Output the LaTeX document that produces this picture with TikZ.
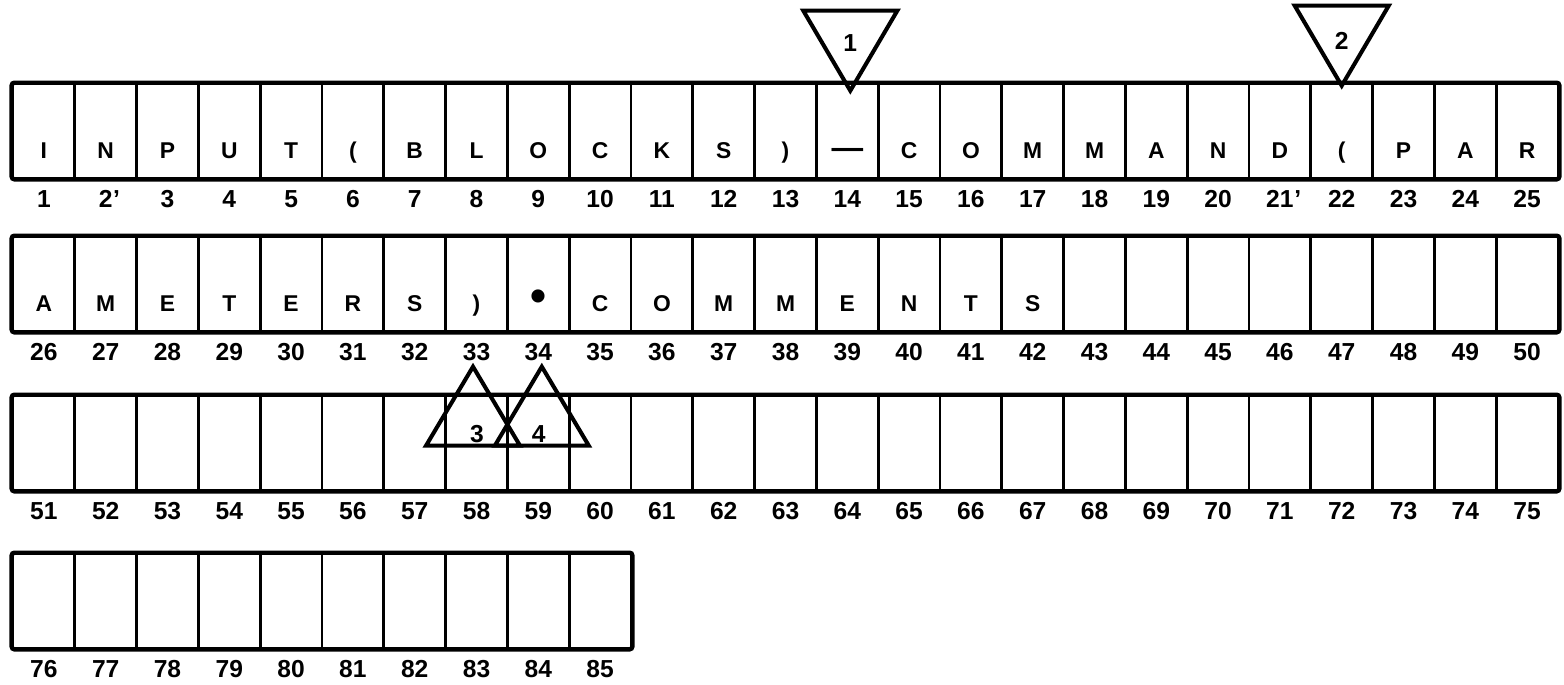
\documentclass[tikz,border=0pt]{standalone}
\usepackage{fontspec}
\setmainfont{Liberation Sans}
\usetikzlibrary{
  positioning,
  calc
}
\tikzset{
  % One column of the card: fixed size box
  cellbox/.style={
    rectangle, draw=black, line width=1.5pt,
    minimum width=1.236cm, minimum height=1.88cm,
    inner sep=0pt
  },
  % Heavy outline round a whole row
  rowframe/.style={
    draw=black, line width=2.5pt, rounded corners=1.5pt
  },
  % Character written in a column
  chr/.style={font=\bfseries\fontsize{13}{13}\selectfont, inner sep=0pt, anchor=base},
  % Column number under a box
  colnum/.style={font=\bfseries\fontsize{14}{14}\selectfont, inner sep=0pt, anchor=base},
  % Numbered pointer triangle
  marker/.style={draw=black, line width=2.3pt, line join=miter},
  mnum/.style={font=\bfseries\fontsize{14}{14}\selectfont, inner sep=0pt}
}

\begin{document}
\begin{tikzpicture}[x=0.02cm, y=-0.02cm]

  \useasboundingbox (0,0) rectangle (1564,684);

  % ---- CELLS: four rows, columns 1 to 85 ----
  \foreach \first/\last/\yc in {1/25/131, 26/50/284, 51/75/443, 76/85/601}
    \foreach \n in {\first,...,\last} {
      \node[cellbox] (c\n) at ({13+(\n-\first+0.5)*61.8},\yc) {};
      \node[colnum] (n\n) at ($(c\n.south)+(0,28)$) {\n};
    }
  \node[colnum, anchor=base west] at (n2.base east) {'};
  \node[colnum, anchor=base west] at (n21.base east) {'};

  % ---- ROW FRAMES ----
  \foreach \a/\b in {1/25, 26/50, 51/75, 76/85}
    \draw[rowframe] (c\a.north west) rectangle (c\b.south east);

  % ---- ROW 1: statement text ----
  \foreach \ch [count=\n] in {I,N,P,U,T,{(},B,L,O,C,K,S,{)},
      {\fontsize{18}{18}\selectfont---},C,O,M,M,A,N,D,{(},P,A,R}
    \node[chr] at ($(c\n.south)+(0,-21)$) {\ch};

  % ---- ROW 2: statement text continued ----
  \foreach \ch [count=\n from 26] in {A,M,E,T,E,R,S,{)},
      {\fontsize{26}{26}\selectfont\textbullet},C,O,M,M,E,N,T,S}
    \node[chr] at ($(c\n.south)+(0,-21)$) {\ch};

  % ---- POINTER TRIANGLES ----
  \draw[marker] ($(c14.north)+(3,8)$) coordinate (t1) -- ++(-47,-80) -- ++(94,0) -- cycle;
  \node[mnum] at ($(t1)+(0,-48)$) {1};

  \draw[marker] ($(c22.north)+(0,3)$) coordinate (t2) -- ++(-47,-80) -- ++(94,0) -- cycle;
  \node[mnum] at ($(t2)+(0,-45)$) {2};

  \draw[marker] ($(c58.north)+(-3.5,-28)$) coordinate (t3) -- ++(-47,79) -- ++(94,0) -- cycle;
  \node[mnum] at ($(t3)+(4,67)$) {3};

  \draw[marker] ($(c59.north)+(3.5,-28)$) coordinate (t4) -- ++(-47,79) -- ++(94,0) -- cycle;
  \node[mnum] at ($(t4)+(-3,67)$) {4};

\end{tikzpicture}
\end{document}
